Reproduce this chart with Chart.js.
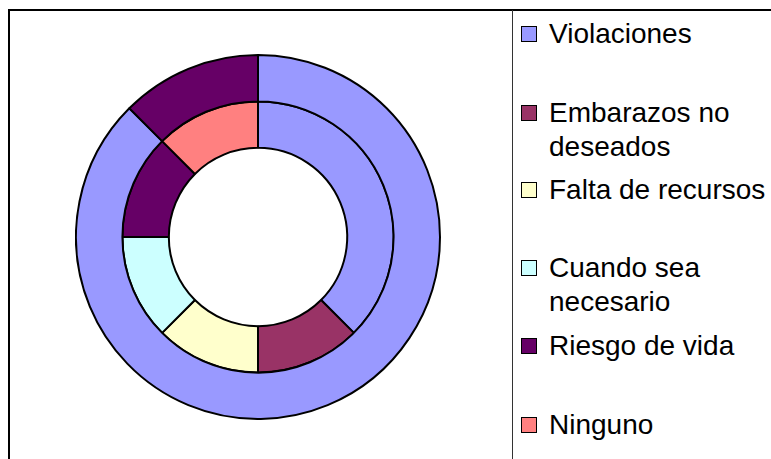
<!DOCTYPE html>
<html>
<head>
<meta charset="utf-8">
<script src="https://cdn.jsdelivr.net/npm/chart.js@4.4.0/dist/chart.umd.min.js"></script>
<style>
  html, body { margin: 0; padding: 0; background: #fff; width: 771px; height: 459px; overflow: hidden; }
  #frameTop { position: absolute; left: 8px; top: 9px; width: 763px; height: 2px; background: #000; }
  #frameLeft { position: absolute; left: 8px; top: 9px; width: 2px; height: 450px; background: #000; }
  #divider { position: absolute; left: 512px; top: 10px; width: 1px; height: 449px; background: #333; }
  #chartBox { position: absolute; left: 75px; top: 54px; width: 366px; height: 366px; }
  #legend { position: absolute; left: 0; top: 0; }
  .item { position: absolute; left: 521px; font-family: "Liberation Sans", Arial, sans-serif; font-size: 28px; line-height: 34px; color: #000; }
  .sw { position: absolute; left: 0; width: 14px; height: 14px; border: 1px solid #000; }
  .txt { position: absolute; left: 28px; width: 224px; white-space: normal; }
</style>
</head>
<body>
<div id="frameTop"></div>
<div id="frameLeft"></div>
<div id="divider"></div>
<div id="chartBox"><canvas id="c"></canvas></div>
<div id="legend"></div>
<script>
const categories = ["Violaciones", "Embarazos no deseados", "Falta de recursos", "Cuando sea necesario", "Riesgo de vida", "Ninguno"];
const outerValues = [7, 0, 0, 0, 1, 0];
const innerValues = [3, 1, 1, 1, 1, 1];
const colors = ["#9999FF", "#993366", "#FFFFCC", "#CCFFFF", "#660066", "#FF8080"];

const chart = new Chart(document.getElementById('c'), {
  type: 'doughnut',
  data: {
    labels: categories,
    datasets: [
      { data: outerValues, backgroundColor: colors, borderColor: '#000', borderWidth: 2 },
      { data: innerValues, backgroundColor: colors, borderColor: '#000', borderWidth: 2 }
    ]
  },
  options: {
    responsive: true,
    maintainAspectRatio: false,
    animation: false,
    cutout: '49%',
    layout: { padding: 0 },
    plugins: { legend: { display: false }, tooltip: { enabled: false } }
  }
});

const legend = document.getElementById('legend');
const firstLineCenters = [34, 113, 190, 268, 346, 425];
chart.data.labels.forEach((lab, i) => {
  const it = document.createElement('div');
  it.className = 'item';
  it.style.top = (firstLineCenters[i] - 17) + 'px';
  const sw = document.createElement('div');
  sw.className = 'sw';
  sw.style.top = (17 - 8) + 'px';
  sw.style.background = chart.data.datasets[1].backgroundColor[i];
  const t = document.createElement('div');
  t.className = 'txt';
  t.textContent = lab;
  it.appendChild(sw);
  it.appendChild(t);
  legend.appendChild(it);
});
</script>
</body>
</html>
